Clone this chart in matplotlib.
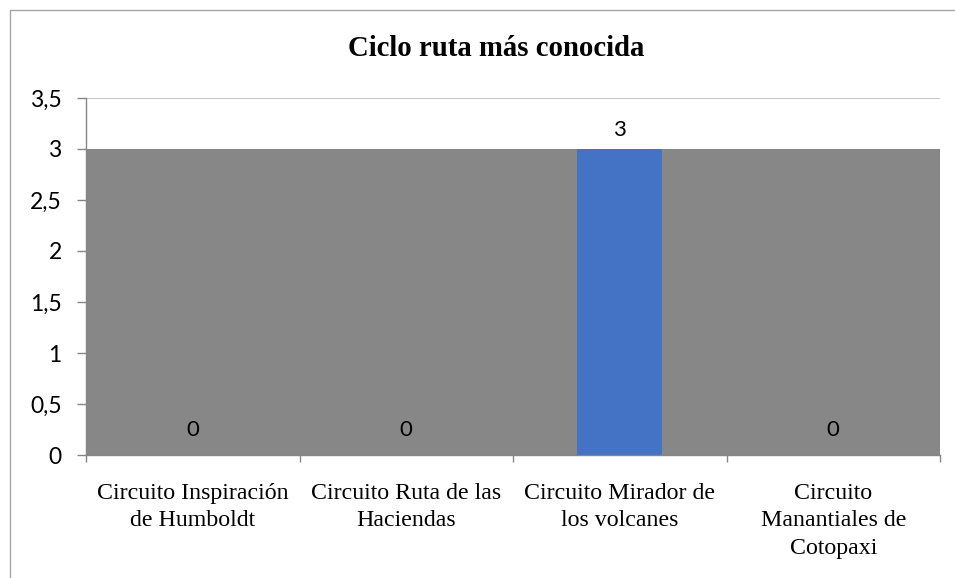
import matplotlib.pyplot as plt
from matplotlib.patches import Rectangle
import numpy as np

# data
categories = [
    "Circuito Inspiración\nde Humboldt",
    "Circuito Ruta de las\nHaciendas",
    "Circuito Mirador de\nlos volcanes",
    "Circuito\nManantiales de\nCotopaxi",
]
values = [0, 0, 3, 0]
yticks = [0, 0.5, 1, 1.5, 2, 2.5, 3, 3.5]
ytick_labels = ["0", "0,5", "1", "1,5", "2", "2,5", "3", "3,5"]

gray = "#878787"
blue = "#4472C4"
axis_gray = "#868686"

fig = plt.figure(figsize=(9.55, 5.78), dpi=100)
ax = fig.add_axes([86 / 955, 123 / 578, 854 / 955, 357 / 578])

x = np.arange(len(categories))

# gray plot-area block up to the highest value
ax.axhspan(0, max(values), color=gray, zorder=1, lw=0)
ax.axhline(3.5, color="#bfbfbf", lw=1.2, zorder=0)

ax.bar(x, values, width=0.4, color=blue, zorder=2)

for xi, v in zip(x, values):
    off = 18 if v == 0 else 14
    ax.annotate(str(v), (xi, v), xytext=(0, off), textcoords="offset points",
                ha="center", va="center", fontsize=16, family="Lato", zorder=3)

ax.set_xlim(-0.5, len(categories) - 0.5)
ax.set_ylim(0, 3.5)
ax.set_yticks(yticks)
ax.set_yticklabels(ytick_labels, family="Lato", fontsize=16.5)

ax.set_xticks(x)
ax.set_xticklabels(categories, family="Liberation Serif", fontsize=17.2,
                   linespacing=1.4)
ax.set_xticks(np.arange(len(categories) + 1) - 0.5, minor=True)
ax.tick_params(axis="x", which="major", length=0, pad=20)
ax.tick_params(axis="x", which="minor", length=5, color=axis_gray, width=1)
ax.tick_params(axis="y", length=6.5, color=axis_gray, width=1, pad=11)

for side in ["top", "right"]:
    ax.spines[side].set_visible(False)
for side in ["left", "bottom"]:
    ax.spines[side].set_color(axis_gray)
    ax.spines[side].set_linewidth(1)

fig.text(496 / 955, 1 - 49 / 578, "Ciclo ruta más conocida",
         ha="center", va="center", fontsize=20.7, fontweight="bold",
         family="Liberation Serif")

# chart-area border
fig.patches.append(Rectangle((10 / 955, -0.1), 1.2, 1 - 10 / 578 + 0.1,
                             transform=fig.transFigure, fill=False,
                             edgecolor="#a6a6a6", lw=1))

fig.savefig("out.png", dpi=100)
